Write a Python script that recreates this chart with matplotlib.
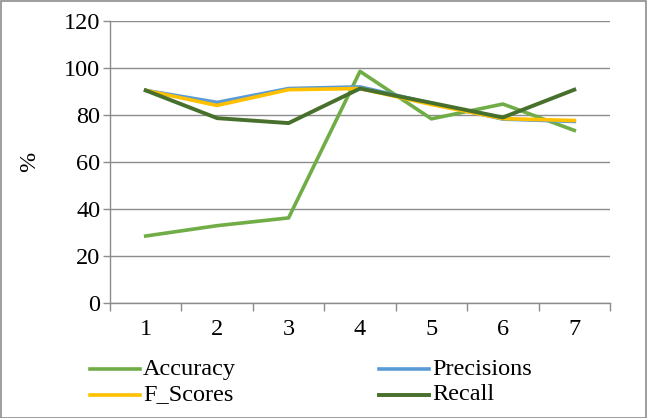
import matplotlib
matplotlib.use("Agg")
import matplotlib.pyplot as plt
from matplotlib.patches import Rectangle

categories = [1, 2, 3, 4, 5, 6, 7]
accuracy = [28.6, 33.0, 36.3, 98.6, 78.4, 84.7, 73.5]
precisions = [90.5, 85.4, 91.3, 92.0, 85.0, 78.3, 77.3]
f_scores = [90.5, 84.1, 90.8, 91.3, 84.5, 78.5, 77.7]
recall = [90.5, 78.7, 76.6, 91.3, 85.2, 79.0, 90.8]
yticks = [0, 20, 40, 60, 80, 100, 120]

plt.rcParams['font.family'] = ['Liberation Serif', 'DejaVu Serif']
FS = 17.5

fig = plt.figure(figsize=(6.47, 4.18), dpi=100)
ax = fig.add_axes([110/647, 1 - 303.3/418, 500/647, (303.3 - 21)/418])

grid_c = '#8c8c8c'
ax.plot(categories, accuracy, color='#70AD47', lw=2.6, label='Accuracy', solid_joinstyle='round', zorder=3)
ax.plot(categories, precisions, color='#5B9BD5', lw=2.6, label='Precisions', solid_joinstyle='round', zorder=3)
ax.plot(categories, f_scores, color='#FFC000', lw=2.6, label='F_Scores', solid_joinstyle='round', zorder=3)
ax.plot(categories, recall, color='#46702C', lw=2.8, label='Recall', solid_joinstyle='round', zorder=4)

ax.set_xlim(0.5, 7.5)
ax.set_ylim(0, 120)
ax.set_yticks(yticks)
ax.set_yticklabels([str(v) for v in yticks], fontsize=FS)
ax.yaxis.grid(True, color=grid_c, lw=1.0)
ax.set_axisbelow(True)

ax.set_xticks([c + 0.5 for c in [0] + categories])
ax.set_xticklabels([])
ax.set_xticks(categories, minor=True)
ax.set_xticklabels([str(c) for c in categories], minor=True, fontsize=FS)
ax.tick_params(axis='x', which='minor', length=0, pad=11)
ax.tick_params(axis='x', which='major', length=6, color=grid_c, width=1.0)
ax.tick_params(axis='y', length=5, color=grid_c, width=1.0, pad=2)

for s in ['top', 'right']:
    ax.spines[s].set_visible(False)
for s in ['left', 'bottom']:
    ax.spines[s].set_color(grid_c)
    ax.spines[s].set_linewidth(1.0)

ax.set_ylabel('%', fontsize=FS, labelpad=17)

h, l = ax.get_legend_handles_labels()
order = [0, 2, 1, 3]
leg = fig.legend([h[i] for i in order], [l[i] for i in order], ncol=2,
                 loc='upper left', bbox_to_anchor=(90/647, 1 - 357.5/418),
                 frameon=False, fontsize=FS, handlelength=2.06, handletextpad=0.12,
                 columnspacing=5.9, labelspacing=0.16, borderaxespad=0, borderpad=0)
for line in leg.get_lines():
    line.set_ydata([v - 2.5 for v in line.get_ydata()])

fig.patches.append(Rectangle((0.001, 0.001), 0.997, 0.997, transform=fig.transFigure,
                             fill=False, edgecolor=grid_c, lw=1.2))

fig.savefig('out.png', dpi=100)
